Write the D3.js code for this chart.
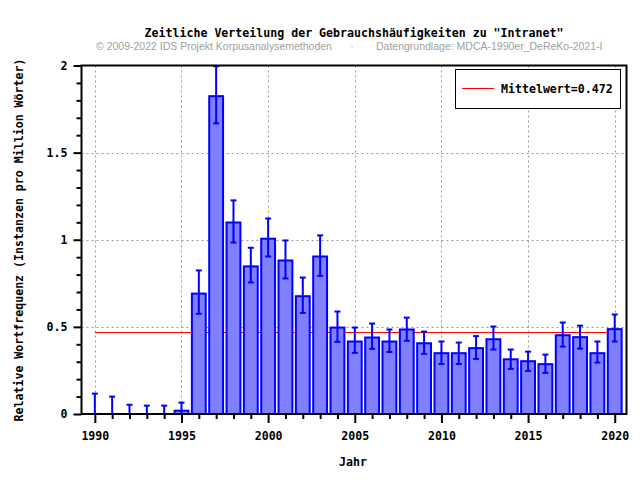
<!DOCTYPE html>
<html><head><meta charset="utf-8">
<script src="https://cdn.jsdelivr.net/npm/d3@7"></script>
<style>body{margin:0;background:#fff}</style>
</head><body>
<script>
const years = [1990,1991,1992,1993,1994,1995,1996,1997,1998,1999,2000,2001,2002,2003,2004,2005,2006,2007,2008,2009,2010,2011,2012,2013,2014,2015,2016,2017,2018,2019,2020];
const values = [0,0,0,0,0,0.019,0.691,1.824,1.099,0.847,1.006,0.881,0.676,0.904,0.496,0.416,0.439,0.416,0.485,0.406,0.349,0.349,0.378,0.429,0.314,0.303,0.286,0.452,0.441,0.349,0.487];
const errLow = [0,0,0,0,0,0,0.575,1.668,0.984,0.755,0.904,0.778,0.580,0.793,0.414,0.351,0.374,0.356,0.420,0.345,0.287,0.287,0.316,0.370,0.259,0.247,0.236,0.387,0.375,0.295,0.416];
const errHigh = [0.117,0.100,0.053,0.048,0.048,0.065,0.824,1.996,1.226,0.954,1.122,0.996,0.783,1.025,0.588,0.496,0.519,0.485,0.553,0.473,0.416,0.410,0.447,0.502,0.370,0.358,0.341,0.525,0.507,0.416,0.571];
const meanValue = 0.472;
const yMajorTicks = [0,0.5,1,1.5,2];
const xMajorTicks = [1990,1995,2000,2005,2010,2015,2020];
const titleText = 'Zeitliche Verteilung der Gebrauchshäufigkeiten zu "Intranet"';
const subLeft = '© 2009-2022 IDS Projekt Korpusanalysemethoden';
const subRight = 'Datengrundlage: MDCA-1990er_DeReKo-2021-I';
const xTitle = 'Jahr';
const yTitle = 'Relative Wortfrequenz (Instanzen pro Million Wörter)';
const legendText = 'Mittelwert=0.472';

const W = 640, H = 480;
const L = 81.5, R = 626.5, T = 65.5, B = 414;
const mono = '"DejaVu Sans Mono", "Liberation Mono", monospace';
const fs = 11.6;

const svg = d3.select('body').append('svg').attr('width', W).attr('height', H);

const x = d3.scaleLinear().domain([1989.23, 2020.68]).range([L, R]);
const y = d3.scaleLinear().domain([0, 2]).range([B, T]);

// grid
const grid = svg.append('g').attr('stroke', '#999').attr('stroke-width', 1).attr('stroke-dasharray', '2,3');
grid.selectAll('line.gx').data(xMajorTicks).join('line')
  .attr('x1', d => Math.round(x(d)) + 0.5).attr('x2', d => Math.round(x(d)) + 0.5)
  .attr('y1', T).attr('y2', B);
grid.selectAll('line.gy').data(yMajorTicks.filter(d => d > 0 && d < 2)).join('line')
  .attr('x1', L).attr('x2', R)
  .attr('y1', d => Math.round(y(d)) + 0.5).attr('y2', d => Math.round(y(d)) + 0.5);

// mean line
const my = Math.round(y(meanValue)) + 0.5;
svg.append('line').attr('x1', x(1990)).attr('x2', x(2020))
  .attr('y1', my).attr('y2', my)
  .attr('stroke', '#ff0000').attr('stroke-width', 1);

// bars
const bw = x(1990.8) - x(1990);
svg.append('g').selectAll('rect').data(years.map((yr, i) => ({yr, v: values[i]})).filter(d => d.v > 0)).join('rect')
  .attr('x', d => x(d.yr) - bw / 2)
  .attr('width', bw)
  .attr('y', d => y(d.v))
  .attr('height', d => B - y(d.v))
  .attr('fill', '#8080ff').attr('stroke', '#0000ff').attr('stroke-width', 2);

// error bars
const eg = svg.append('g').attr('stroke', '#0000ff').attr('stroke-width', 2);
const cap = 3;
years.forEach((yr, i) => {
  const cx = x(yr);
  eg.append('line').attr('x1', cx).attr('x2', cx).attr('y1', y(errLow[i])).attr('y2', y(errHigh[i]));
  eg.append('line').attr('x1', cx - cap).attr('x2', cx + cap).attr('y1', y(errLow[i])).attr('y2', y(errLow[i]));
  eg.append('line').attr('x1', cx - cap).attr('x2', cx + cap).attr('y1', y(errHigh[i])).attr('y2', y(errHigh[i]));
});

// frame
svg.append('rect').attr('x', L).attr('y', T).attr('width', R - L).attr('height', B - T)
  .attr('fill', 'none').attr('stroke', '#000').attr('stroke-width', 2);

// y axis
const yAxis = d3.axisLeft(y).tickValues(yMajorTicks).tickSize(8).tickFormat(d3.format('~g'));
const yg = svg.append('g').attr('transform', `translate(${L},0)`).call(yAxis);
yg.select('.domain').remove();
yg.selectAll('.tick line').attr('stroke', '#000').attr('stroke-width', 2);
yg.selectAll('.tick text').attr('font-family', mono).attr('font-weight', 'bold').attr('font-size', fs).attr('fill', '#000').attr('x', -14);
const yMinor = d3.range(0, 2.0001, 0.1).filter(v => !yMajorTicks.some(m => Math.abs(m - v) < 1e-6));
const yMinorAxis = d3.axisLeft(y).tickValues(yMinor).tickSize(5).tickFormat('');
const ymg = svg.append('g').attr('transform', `translate(${L},0)`).call(yMinorAxis);
ymg.select('.domain').remove();
ymg.selectAll('.tick line').attr('stroke', '#000').attr('stroke-width', 2);

// x axis
const xAxis = d3.axisBottom(x).tickValues(xMajorTicks).tickSize(9).tickFormat(d3.format('d'));
const xg = svg.append('g').attr('transform', `translate(0,${B})`).call(xAxis);
xg.select('.domain').remove();
xg.selectAll('.tick line').attr('stroke', '#000').attr('stroke-width', 2);
xg.selectAll('.tick text').attr('font-family', mono).attr('font-weight', 'bold').attr('font-size', fs).attr('fill', '#000').attr('y', 18);
const xMinor = years.filter(v => !xMajorTicks.includes(v));
const xMinorAxis = d3.axisBottom(x).tickValues(xMinor).tickSize(5).tickFormat('');
const xmg = svg.append('g').attr('transform', `translate(0,${B})`).call(xMinorAxis);
xmg.select('.domain').remove();
xmg.selectAll('.tick line').attr('stroke', '#000').attr('stroke-width', 2);

// titles
svg.append('text').attr('x', 354).attr('y', 37).attr('text-anchor', 'middle')
  .attr('font-family', mono).attr('font-weight', 'bold').attr('font-size', fs).text(titleText);
svg.append('text').attr('x', 96).attr('y', 50)
  .attr('font-family', '"Liberation Sans", Arial, sans-serif').attr('font-size', 10.5).attr('fill', '#a0a0a0').text(subLeft);
svg.append('text').attr('x', 352).attr('y', 50).attr('text-anchor', 'middle')
  .attr('font-family', '"Liberation Sans", Arial, sans-serif').attr('font-size', 10.5).attr('fill', '#a0a0a0').text('·');
svg.append('text').attr('x', 376).attr('y', 50)
  .attr('font-family', '"Liberation Sans", Arial, sans-serif').attr('font-size', 10.5).attr('fill', '#a0a0a0').text(subRight);
svg.append('text').attr('x', 353).attr('y', 466).attr('text-anchor', 'middle')
  .attr('font-family', mono).attr('font-weight', 'bold').attr('font-size', fs).text(xTitle);
svg.append('text').attr('transform', 'translate(23,240) rotate(-90)').attr('text-anchor', 'middle')
  .attr('font-family', mono).attr('font-weight', 'bold').attr('font-size', fs).text(yTitle);

// legend
svg.append('rect').attr('x', 455.5).attr('y', 69.5).attr('width', 165).attr('height', 39)
  .attr('fill', '#fff').attr('stroke', '#000').attr('stroke-width', 1);
svg.append('line').attr('x1', 462).attr('x2', 494).attr('y1', 88.5).attr('y2', 88.5)
  .attr('stroke', '#ff0000').attr('stroke-width', 1);
svg.append('text').attr('x', 501).attr('y', 92.5)
  .attr('font-family', mono).attr('font-weight', 'bold').attr('font-size', fs).text(legendText);
</script>
</body></html>
